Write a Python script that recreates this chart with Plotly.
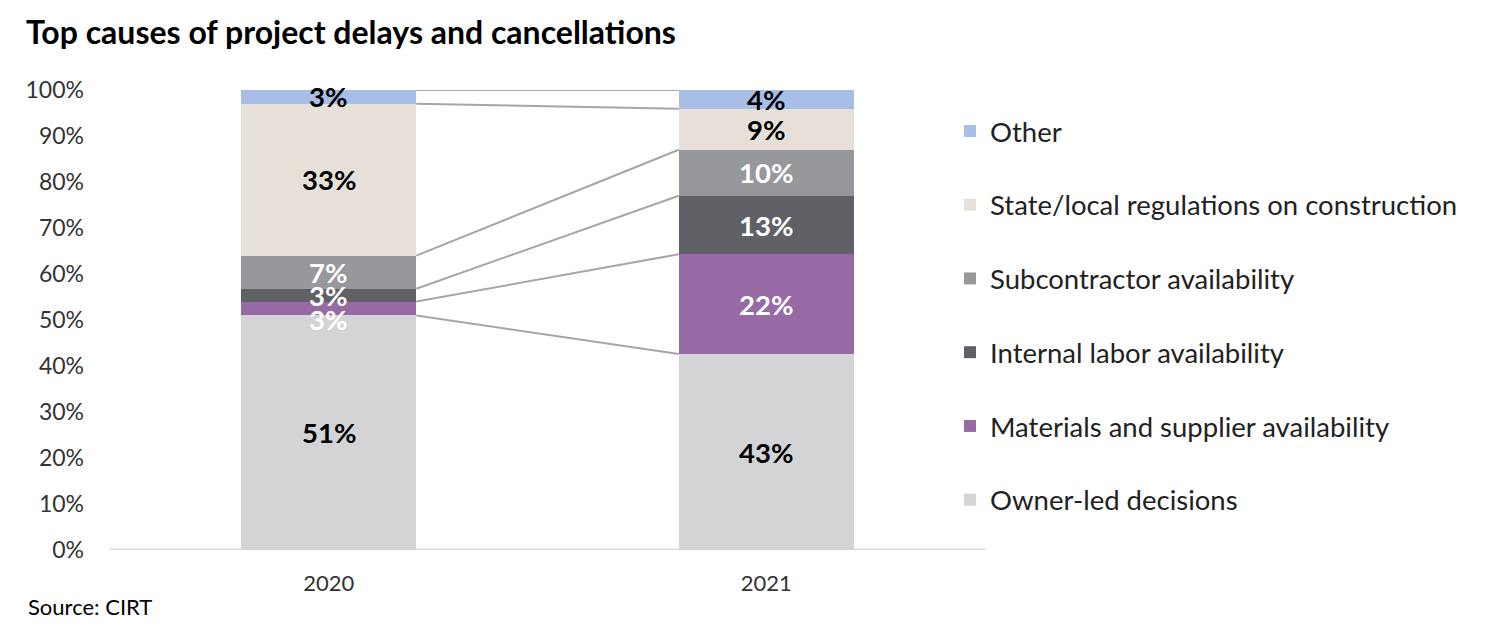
import plotly.graph_objects as go
import numpy as np

years = ["2020", "2021"]
series_names = ["Owner-led decisions", "Materials and supplier availability",
                "Internal labor availability", "Subcontractor availability",
                "State/local regulations on construction", "Other"]
owner = [51.0, 42.6]
materials = [3.0, 21.7]
internal = [2.8, 12.7]
subcontractor = [7.2, 10.0]
state_local = [33.0, 8.9]
other = [3.0, 4.1]
y_ticks = [0, 10, 20, 30, 40, 50, 60, 70, 80, 90, 100]

series_values = [owner, materials, internal, subcontractor, state_local, other]
colors = ["#d3d4d6", "#976aa5", "#5f6166", "#97989b", "#e6e0d8", "#a8bee6"]
text_colors = ["#000000", "#ffffff", "#ffffff", "#ffffff", "#000000", "#000000"]
# small vertical nudges (px) for crowded labels, keyed by (series index, category index)
label_nudge = {(1, 0): -11}

FONT = "Lato"
BAR_W = 0.4

fig = go.Figure()
n = len(series_names)
for i, (name, vals) in enumerate(zip(series_names, series_values)):
    fig.add_trace(go.Bar(
        x=[0, 1], y=vals, name=name, width=BAR_W,
        marker=dict(color=colors[i], line=dict(width=0)),
        legendgroup=name, legendrank=n - i, hoverinfo="skip",
    ))

cum = np.cumsum(np.array(series_values), axis=0)

# connector lines between the tops of corresponding segments
for row in cum:
    fig.add_trace(go.Scatter(
        x=[0 + BAR_W / 2, 1 - BAR_W / 2], y=[row[0], row[1]], mode="lines",
        line=dict(color="#a6a6a6", width=2), showlegend=False, hoverinfo="skip",
    ))

annotations = []
for i, vals in enumerate(series_values):
    for j, v in enumerate(vals):
        annotations.append(dict(
            x=j, y=cum[i][j] - v / 2, xref="x", yref="y", text=f"<b>{round(v)}%</b>",
            showarrow=False, xanchor="center", yanchor="middle",
            yshift=label_nudge.get((i, j), 0),
            font=dict(family=FONT, size=27.5, color=text_colors[i]),
        ))
annotations.append(dict(text="Source: CIRT", xref="paper", yref="paper",
                        x=-84 / 875, y=-56 / 460, xanchor="left", yanchor="middle",
                        showarrow=False, font=dict(family=FONT, size=22, color="#000000")))

fig.update_layout(
    width=1496, height=634,
    barmode="stack",
    plot_bgcolor="white", paper_bgcolor="white",
    margin=dict(l=102, r=519, t=82, b=92),
    font=dict(family=FONT, color="#333333"),
    title=dict(text="<b>Top causes of project delays and cancellations</b>",
               x=18 / 1496, xanchor="left", y=1 - 25 / 634, yanchor="middle",
               font=dict(family=FONT, size=32, color="#000000")),
    legend=dict(x=0.96, xanchor="left", y=0.964, yanchor="top",
                traceorder="grouped", tracegroupgap=35,
                font=dict(family=FONT, size=27.5, color="#222222"),
                bgcolor="rgba(0,0,0,0)"),
    xaxis=dict(range=[-0.5, 1.5], tickvals=[0, 1], ticktext=years,
               showgrid=False, zeroline=False, showline=False, ticks="",
               tickfont=dict(family=FONT, size=22, color="#333333"),
               ticklabelstandoff=18),
    yaxis=dict(range=[0, 100], tickvals=y_ticks,
               ticktext=[f"{t}%" for t in y_ticks],
               showgrid=False, zeroline=False, showline=False, ticks="",
               tickfont=dict(family=FONT, size=23, color="#333333"),
               ticklabelstandoff=25),
    annotations=annotations,
    shapes=[dict(type="line", xref="paper", yref="y", x0=0, x1=1, y0=0, y1=0,
                 line=dict(color="#d9d9d9", width=3), layer="below")],
)

fig.write_html("out.html")
